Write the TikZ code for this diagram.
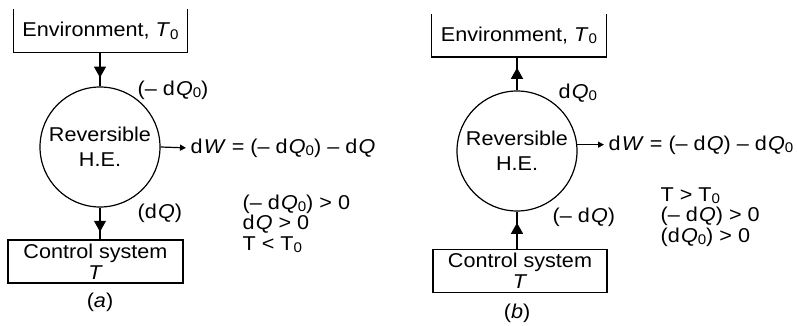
\documentclass[tikz,border=0pt]{standalone}
\usepackage{fontspec}
\setmainfont{Liberation Sans}[FakeStretch=1.08]
\usetikzlibrary{arrows.meta,decorations.markings}
\newcommand\zsub{\raisebox{-0.2ex}{\fontsize{14}{14}\selectfont 0}}
\newcommand\dk{d\kern1.2pt}
\begin{document}
\begin{tikzpicture}[x=1pt,y=-1pt,line width=1.2pt,
  font=\fontsize{20}{21}\selectfont,
  envbox/.style={draw=none,inner sep=0,minimum height=42pt},
  ctrlbox/.style={draw,inner sep=0,align=center,minimum height=43pt,
    font=\fontsize{20}{21}\selectfont},
  hecircle/.style={circle,draw,minimum size=120pt,inner sep=0,align=center,
    font=\fontsize{20}{25}\selectfont},
  flowmark/.style={postaction={decorate},decoration={markings,
    mark=at position #1 with {\arrow{Triangle[width=12pt,length=11pt]}}}},
  work/.style={-{Triangle[width=6pt,length=6pt]},shorten >=4pt},
  lbl/.style={inner sep=0,anchor=west},
  cond/.style={inner sep=0,anchor=north west,align=left,
    font=\fontsize{20}{20.5}\selectfont},
  figcap/.style={inner sep=0}]
\useasboundingbox (0,0) rectangle (797,326);

% ---------- (a) ----------
\node[envbox,minimum width=173pt] (envA) at (100.5,31) {Environment, \textit{T}\zsub};
\draw (envA.north west) -- (envA.south west) -- (envA.south east) -- (envA.north east);
\node[hecircle] (circA) at (100,147) {Reversible\\H.E.};
\node[ctrlbox,minimum width=175pt] (ctrlA) at (95.5,261.5) {Control system\\\textit{T}};
\draw[flowmark=0.74] (envA.south -| circA) -- (circA.north);
\draw[flowmark=0.76] (circA.south) -- (ctrlA.north -| circA);
\node[lbl] (dWA) at (190,148) {\dk\textit{W} = (– \dk\textit{Q}\zsub) – \dk\textit{Q}};
\draw[work] (circA.east) -- (dWA.west);
\node[lbl] (qA0) at (137,90) {(– \dk\textit{Q}\zsub)};
\node[lbl] (qA) at (137,213) {(\dk\textit{Q})};
\node[cond] (condA) at (242,194) {(– \dk\textit{Q}\zsub) > 0\\\dk\textit{Q} > 0\\T < T\zsub};
\node[figcap] (capA) at (100,302) {(\textit{a})};

% ---------- (b) ----------
\node[envbox,minimum width=174pt] (envB) at (519,35.5) {Environment, \textit{T}\zsub};
\draw (envB.north west) -- (envB.south west) -- (envB.south east) -- (envB.north east);
\node[hecircle] (circB) at (517,151) {Reversible\\H.E.};
\node[ctrlbox,minimum width=174pt] (ctrlB) at (520,271) {Control system\\\textit{T}};
\draw[flowmark=0.68] (circB.north) -- (envB.south -| circB);
\draw[flowmark=0.70] (ctrlB.north -| circB) -- (circB.south);
\node[lbl] (dWB) at (608,145) {\dk\textit{W} = (– \dk\textit{Q}) – \dk\textit{Q}\zsub};
\draw[work] (circB.6) -- (dWB.west |- circB.6);
\node[lbl] (qB0) at (558,93) {\dk\textit{Q}\zsub};
\node[lbl] (qB) at (552,217) {(– \dk\textit{Q})};
\node[cond] (condB) at (660,187) {T > T\zsub\\(– \dk\textit{Q}) > 0\\(\dk\textit{Q}\zsub) > 0};
\node[figcap] (capB) at (517,313) {(\textit{b})};
\end{tikzpicture}
\end{document}
